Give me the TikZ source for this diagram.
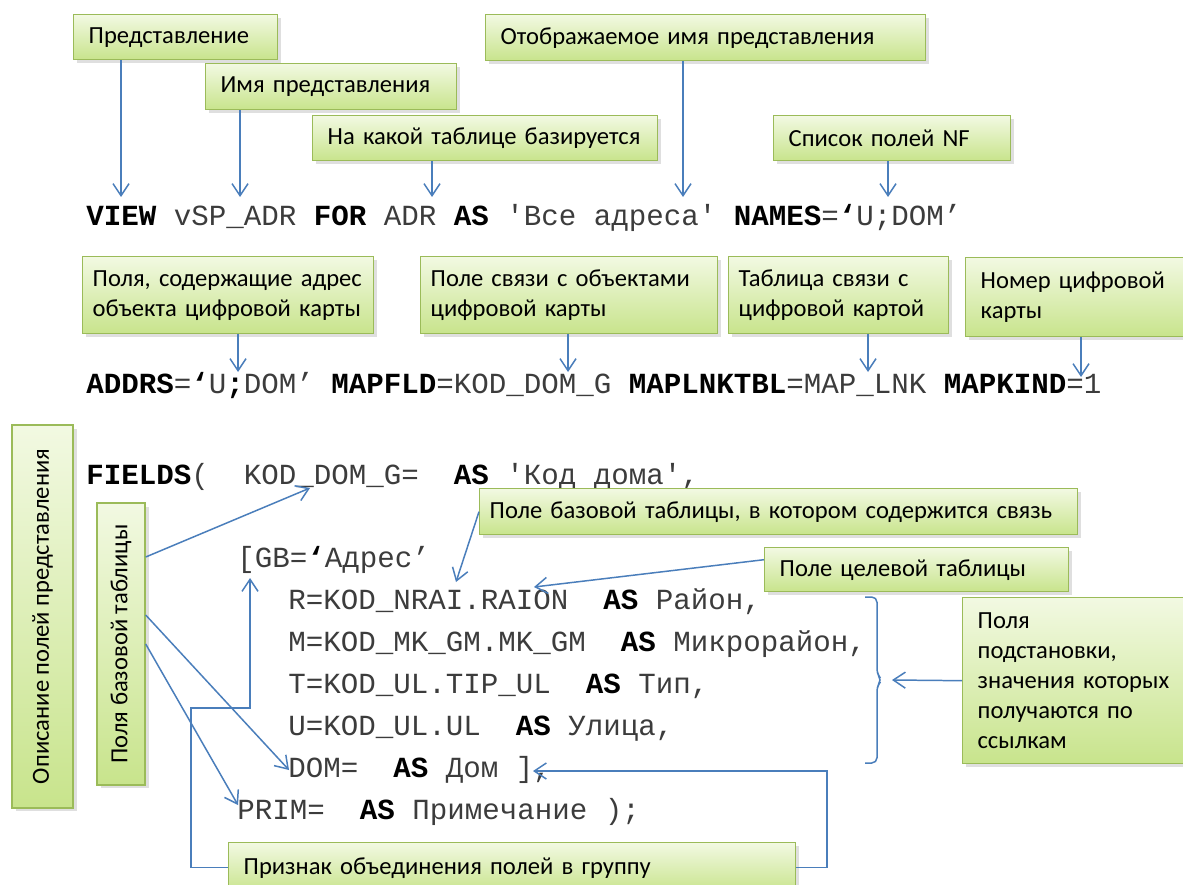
\documentclass[tikz,border=0pt]{standalone}
\usepackage{fontspec}
\setmainfont{Carlito}
\setmonofont{Liberation Mono}
\newfontfamily\calloutfont{Carlito}
\usetikzlibrary{arrows.meta,shadows}

\definecolor{linkblue}{RGB}{74,126,187}
\definecolor{boxborder}{RGB}{155,187,89}
\definecolor{boxtop}{RGB}{242,249,226}
\definecolor{boxbottom}{RGB}{200,228,140}
\definecolor{codegray}{RGB}{60,60,60}

\newcommand{\kw}[1]{\textbf{\color{black}#1}}

\tikzset{
  callout/.style={draw=boxborder, line width=0.8pt, top color=boxtop, bottom color=boxbottom,
    drop shadow={opacity=0.25, shadow xshift=2pt, shadow yshift=-2pt},
    font=\calloutfont\fontsize{14}{17}\selectfont, align=left, anchor=north west,
    inner xsep=0.3cm, inner ysep=0.1cm},
  tight/.style={inner xsep=0.2cm},
  vcallout/.style={callout, anchor=center, rotate=90, align=center},
  code/.style={anchor=base west, inner sep=0pt, font=\ttfamily\fontsize{16.6}{20}\selectfont, text=codegray},
  link/.style={draw=linkblue, line width=0.85pt, -{Straight Barb[length=2.4mm,width=3.2mm]}},
}

\begin{document}
\begin{tikzpicture}[x=0.02cm, y=-0.02cm]
    \fill[white] (0,0) rectangle (1183,885);
    \useasboundingbox (0,0) rectangle (1183,885);

    % Code lines
    \node[code] (line1) at (86,226) {\kw{VIEW} vSP\_ADR \kw{FOR} ADR \kw{AS} 'Все адреса' \kw{NAMES}=\kw{‘}U;DOM’};
    \node[code] (line2) at (86,393) {\kw{ADDRS}=\kw{‘}U\kw{;}DOM’ \kw{MAPFLD}=KOD\_DOM\_G \kw{MAPLNKTBL}=MAP\_LNK \kw{MAPKIND}=1};
    \node[code] (line3) at (86,484) {\kw{FIELDS}(~~KOD\_DOM\_G=~~\kw{AS} 'Код дома',};
    \node[code] (line4) at (237,567) {[GB=\kw{‘}Адрес’};
    \node[code] (line5) at (288,609) {R=KOD\_NRAI.RAION~~\kw{AS} Район,};
    \node[code] (line6) at (288,651) {M=KOD\_MK\_GM.MK\_GM~~\kw{AS} Микрорайон,};
    \node[code] (line7) at (288,693) {T=KOD\_UL.TIP\_UL~~\kw{AS} Тип,};
    \node[code] (line8) at (288,735) {U=KOD\_UL.UL~~\kw{AS} Улица,};
    \node[code] (line9) at (288,777) {DOM=~~\kw{AS} Дом ],};
    \node[code] (line10) at (237,819) {PRIM=~~\kw{AS} Примечание );};

    % Callouts, top row
    \node[callout, text width=3.48cm, minimum height=0.9cm] (view) at (73,14) {Представление};
    \node[callout, text width=4.42cm, minimum height=0.92cm] (vname) at (205,63) {Имя представления};
    \node[callout, text width=6.3cm, minimum height=0.9cm] (vbase) at (312,115) {На какой таблице базируется};
    \node[callout, text width=8.2cm, minimum height=0.92cm] (vdisp) at (485,14) {Отображаемое имя представления};
    \node[callout, text width=4.14cm, minimum height=0.9cm] (vnf) at (773,115) {Список полей NF};

    % Callouts, second row
    \node[callout, tight, text width=5.42cm, minimum height=1.54cm] (addr) at (82,256) {Поля, содержащие адрес\\ объекта цифровой карты};
    \node[callout, tight, text width=5.54cm, minimum height=1.54cm] (mapfld) at (420,256) {Поле связи с объектами\\цифровой карты};
    \node[callout, tight, text width=4.0cm, minimum height=1.54cm] (maplnk) at (728,256) {Таблица связи с\\цифровой картой};
    \node[callout, text width=4.0cm, minimum height=1.58cm] (mapkind) at (965,257) {Номер цифровой\\карты};

    % Callouts, fields part
    \node[vcallout, minimum width=7.66cm, minimum height=1.22cm] (fdesc) at (42.5,616.5) {Описание полей представления};
    \node[vcallout, minimum width=5.64cm, minimum height=0.96cm] (basef) at (121,644) {Поля базовой таблицы};
    \node[callout, tight, text width=11.56cm, minimum height=0.92cm] (linkf) at (479,488) {Поле базовой таблицы, в котором содержится связь};
    \node[callout, text width=5.48cm, minimum height=0.88cm] (targetf) at (764,547) {Поле целевой таблицы};
    \node[callout, text width=4.06cm, minimum height=3.32cm] (subst) at (962,597) {Поля\\подстановки,\\значения которых\\получаются по\\ссылкам};
    \node[callout, text width=10.74cm, minimum height=1.0cm] (group) at (228,842) {Признак объединения полей в группу};

    % Target points in the code
    \coordinate (tView) at (121,197);
    \coordinate (tName) at (240,197);
    \coordinate (tBase) at (432,197);
    \coordinate (tDisp) at (683,197);
    \coordinate (tNF) at (888,197);
    \coordinate (tAddr) at (238,372);
    \coordinate (tMapFld) at (568,372);
    \coordinate (tLnk) at (868,372);
    \coordinate (tKind) at (1081,377);
    \coordinate (tKodDom) at (310,488);
    \coordinate (tDom) at (289,770);
    \coordinate (tPrim) at (238,805);
    \coordinate (tLinkFld) at (456,582);
    \coordinate (tTarget) at (534,587);
    \coordinate (tBrace) at (892,680);
    \coordinate (tGroup) at (250,578);
    \coordinate (tGroupEnd) at (533,771);

    % Arrows
    \draw[link] (view.south -| tView) -- (tView);
    \draw[link] (vname.south -| tName) -- (tName);
    \draw[link] (vbase.south -| tBase) -- (tBase);
    \draw[link] (vdisp.south -| tDisp) -- (tDisp);
    \draw[link] (vnf.south -| tNF) -- (tNF);
    \draw[link] (addr.south -| tAddr) -- (tAddr);
    \draw[link] (mapfld.south -| tMapFld) -- (tMapFld);
    \draw[link] (maplnk.south -| tLnk) -- (tLnk);
    \draw[link] (mapkind.south -| tKind) -- (tKind);

    \draw[link] ([yshift=1.74cm]basef.south) -- (tKodDom);
    \draw[link] ([yshift=0.58cm]basef.south) -- (tDom);
    \draw[link] (basef.south) -- (tPrim);
    \draw[link] (linkf.west) -- (tLinkFld);
    \draw[link] ([yshift=0.2cm]targetf.west) -- (tTarget);
    \draw[link] (subst.west) -- (tBrace);
    \draw[link] (group.west) -| (191,708) -| (tGroup);
    \draw[link] (group.east) -| (827,771) -- (tGroupEnd);

    % Brace over the lookup fields
    \draw[linkblue, line width=0.85pt, rounded corners=3pt]
        (865,597) -- (877,597) -- (877,674) -- (882,680) -- (877,686) -- (877,763) -- (865,763);
\end{tikzpicture}
\end{document}
